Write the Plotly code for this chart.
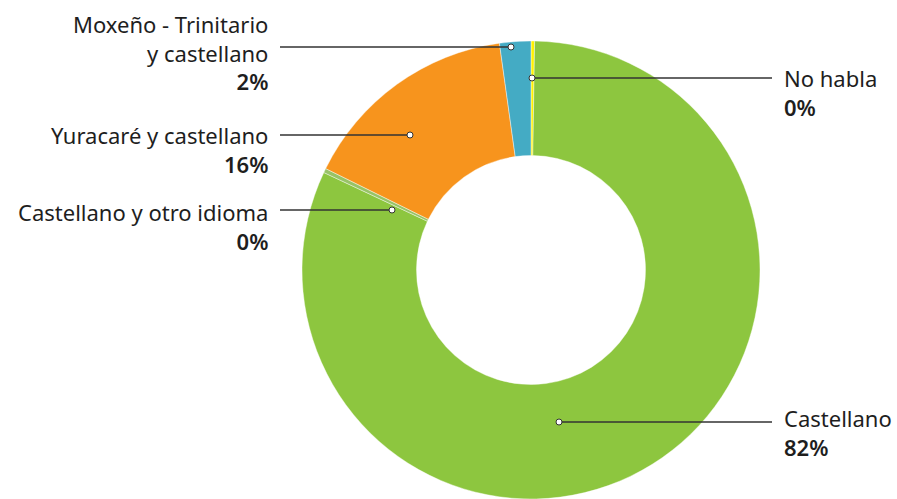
import plotly.graph_objects as go

# ---- data ----
categories = ["No habla", "Castellano", "Castellano y otro idioma",
              "Yuracaré y castellano", "Moxeño - Trinitario y castellano"]
values = [0.25, 81.75, 0.3, 15.5, 2.2]
pct_labels = ["0%", "82%", "0%", "16%", "2%"]
colors = ["#FFF200", "#8DC63F", "#98C367", "#F7941D", "#44ABC4"]

W, H = 897, 499
FONT = "Noto Sans"
TXT = "#1e1e1e"
FS = 22
LS = FS * 1.3

fig = go.Figure(go.Pie(
    labels=categories, values=values, sort=False, direction="clockwise",
    rotation=0, hole=0.5, textinfo="none", hoverinfo="label+percent",
    marker=dict(colors=colors, line=dict(color="rgba(255,255,255,0.7)", width=0.6)),
    domain=dict(x=[300.5 / W, 761.5 / W], y=[0, 1 - 41 / H]),
    showlegend=False,
))

# callout layout (pixel positions): dot, line end, text side, first-line centre y
callouts = [
    dict(dot=(532, 78), end=772, side="left", lines=[categories[0]], pct=pct_labels[0], y0=78),
    dict(dot=(559, 422), end=772, side="left", lines=[categories[1]], pct=pct_labels[1], y0=418),
    dict(dot=(392, 210), end=280, side="right", lines=["Castellano y otro idioma"], pct=pct_labels[2], y0=212),
    dict(dot=(410, 135), end=280, side="right", lines=["Yuracaré y castellano"], pct=pct_labels[3], y0=135),
    dict(dot=(511, 47), end=280, side="right", lines=["Moxeño - Trinitario", "y castellano"], pct=pct_labels[4], y0=24),
]

def px(x):
    return x / W

def py(y):
    return 1 - y / H

shapes, annotations = [], []
for c in callouts:
    dx, dy = c["dot"]
    shapes.append(dict(type="line", xref="paper", yref="paper",
                       x0=px(dx), x1=px(c["end"]), y0=py(dy), y1=py(dy),
                       line=dict(color="#333333", width=1.5)))
    shapes.append(dict(type="circle", xref="paper", yref="paper",
                       xsizemode="pixel", ysizemode="pixel",
                       xanchor=px(dx), yanchor=py(dy),
                       x0=-3, x1=3, y0=-3, y1=3,
                       fillcolor="white", line=dict(color="#333333", width=1)))
    if c["side"] == "left":
        tx, xa = c["end"] + 10, "left"
    else:
        tx, xa = c["end"] - 10, "right"
    rows = c["lines"] + ['<span style="font-weight:600">' + c["pct"] + "</span>"]
    n = len(rows)
    yc = c["y0"] + (n - 1) * LS / 2
    annotations.append(dict(text="<br>".join(rows), xref="paper", yref="paper",
                            x=px(tx), y=py(yc), align=xa,
                            xanchor=xa, yanchor="middle", showarrow=False,
                            font=dict(family=FONT, size=FS, color=TXT)))

fig.update_layout(
    width=W, height=H, margin=dict(l=0, r=0, t=0, b=0),
    paper_bgcolor="white", plot_bgcolor="white",
    shapes=shapes, annotations=annotations,
)

fig.write_html("out.html", config={"displayModeBar": False})

with open("out.html", "r", encoding="utf-8") as f:
    html = f.read()
html = html.replace("<head>", "<head><style>html,body{margin:0;padding:0;overflow:hidden;}</style>", 1)
with open("out.html", "w", encoding="utf-8") as f:
    f.write(html)
